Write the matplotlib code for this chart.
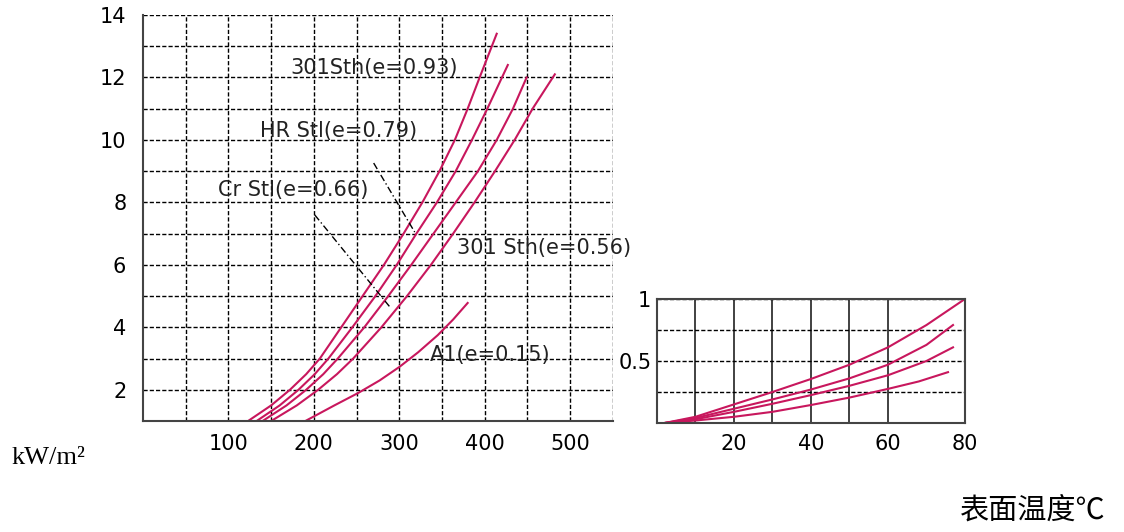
import matplotlib.pyplot as plt

# main chart: heat loss (kW/m2) vs surface temperature
c93_x = [123, 150, 172, 191, 207, 232, 257, 282, 305, 327, 347, 365, 380, 394, 414]
c93_y = [1.0, 1.5, 2.0, 2.5, 3.0, 4.0, 5.0, 6.0, 7.0, 8.0, 9.0, 10.0, 11.0, 12.0, 13.4]
c79_x = [133, 160, 182, 201, 217, 245, 272, 297, 320, 344, 366, 385, 403, 427]
c79_y = [1.0, 1.5, 2.0, 2.5, 3.0, 4.0, 5.0, 6.0, 7.0, 8.0, 9.0, 10.0, 11.0, 12.4]
c66_x = [140, 168, 191, 211, 228, 259, 287, 314, 340, 366, 392, 414, 433, 449]
c66_y = [1.0, 1.5, 2.0, 2.5, 3.0, 4.0, 5.0, 6.0, 7.0, 8.0, 9.0, 10.0, 11.0, 12.0]
c56_x = [150, 180, 205, 227, 246, 279, 309, 337, 363, 388, 412, 435, 456, 482]
c56_y = [1.0, 1.5, 2.0, 2.5, 3.0, 4.0, 5.0, 6.0, 7.0, 8.0, 9.0, 10.0, 11.0, 12.1]
c15_x = [190, 224, 252, 277, 300, 322, 345, 363, 380]
c15_y = [1.0, 1.5, 1.9, 2.3, 2.73, 3.2, 3.75, 4.25, 4.78]

labels = ['301Sth(e=0.93)', 'HR Stl(e=0.79)', 'Cr Stl(e=0.66)', '301 Sth(e=0.56)', 'A1(e=0.15)']
label_x = [172, 137, 88, 367, 336]
label_y = [12.3, 10.3, 8.4, 6.54, 3.11]

# dashed leader lines
lead1_x = [270, 318]
lead1_y = [9.26, 7.05]
lead2_x = [201, 289]
lead2_y = [7.6, 4.65]

# inset: low temperature range 0..80 C
ina_x = [2, 10, 20, 30, 40, 50, 60, 70, 80]
ina_y = [0.0, 0.05, 0.15, 0.25, 0.355, 0.47, 0.61, 0.79, 1.0]
inb_x = [2, 10, 20, 30, 40, 50, 60, 70, 76.9]
inb_y = [0.0, 0.04, 0.115, 0.19, 0.27, 0.36, 0.47, 0.63, 0.79]
inc_x = [2, 10, 20, 30, 40, 50, 60, 70, 76.9]
inc_y = [0.0, 0.03, 0.09, 0.155, 0.225, 0.30, 0.385, 0.50, 0.61]
ind_x = [2, 10, 20, 30, 40, 50, 60, 68, 75.6]
ind_y = [0.0, 0.02, 0.05, 0.09, 0.145, 0.205, 0.275, 0.335, 0.41]

red = '#c8175d'
dash = (0, (3, 1.5))

fig = plt.figure(figsize=(11.24, 5.32), dpi=100)
ax = fig.add_axes([0.1272, 0.2086, 0.4181, 0.7632])

for xs, ys in [(c93_x, c93_y), (c79_x, c79_y), (c66_x, c66_y), (c56_x, c56_y), (c15_x, c15_y)]:
    ax.plot(xs, ys, color=red, lw=1.5)

ax.plot(lead1_x, lead1_y, color='black', lw=1, ls=(0, (5, 2, 1, 2)))
ax.plot(lead2_x, lead2_y, color='black', lw=1, ls=(0, (5, 2, 1, 2)))

for t, x, y in zip(labels, label_x, label_y):
    ax.text(x, y, t, fontsize=15, va='center', ha='left', color='#222222')

ax.set_xlim(0, 550)
ax.set_ylim(1, 14)
ax.set_xticks([100, 200, 300, 400, 500])
ax.set_xticks([50, 150, 250, 350, 450, 550], minor=True)
ax.set_yticks([2, 4, 6, 8, 10, 12, 14])
ax.set_yticks([3, 5, 7, 9, 11, 13], minor=True)
ax.grid(True, which='both', color='black', ls=dash, lw=1)
ax.tick_params(which='both', length=0)
ax.tick_params(axis='y', labelsize=15, pad=12)
ax.tick_params(axis='x', labelsize=15, pad=9)
ax.spines['top'].set_visible(False)
ax.spines['right'].set_visible(False)
ax.spines['left'].set_color('#444444')
ax.spines['bottom'].set_color('#444444')
ax.spines['left'].set_linewidth(1.5)
ax.spines['bottom'].set_linewidth(1.5)

# inset
ins = fig.add_axes([0.5845, 0.2049, 0.274, 0.2331])
for xs, ys in [(ina_x, ina_y), (inb_x, inb_y), (inc_x, inc_y), (ind_x, ind_y)]:
    ins.plot(xs, ys, color=red, lw=1.5)
ins.set_xlim(0, 80)
ins.set_ylim(0, 1)
ins.set_xticks([20, 40, 60, 80])
ins.set_xticks([10, 30, 50], minor=True)
ins.set_yticks([0.5, 1])
ins.set_yticklabels(['0.5', '1'])
ins.set_yticks([0.25, 0.75], minor=True)
ins.grid(True, axis='x', which='both', color='#333333', ls='-', lw=1.3)
ins.grid(True, axis='y', which='both', color='black', ls=dash, lw=1)
ins.tick_params(which='both', length=0)
ins.tick_params(axis='y', labelsize=15, pad=4)
ins.tick_params(axis='x', labelsize=15, pad=8)
for s in ins.spines.values():
    s.set_color('#444444')
    s.set_linewidth(1.5)

fig.text(12 / 1124, 1 - 458 / 532, 'kW/m²', fontsize=19, family='Liberation Serif',
         va='center', ha='left')
fig.text(960 / 1124, 1 - 511 / 532, '表面温度℃', fontsize=21,
         family=['Noto Sans CJK SC', 'DejaVu Sans'], va='center', ha='left')

fig.savefig('out.png', dpi=100)
